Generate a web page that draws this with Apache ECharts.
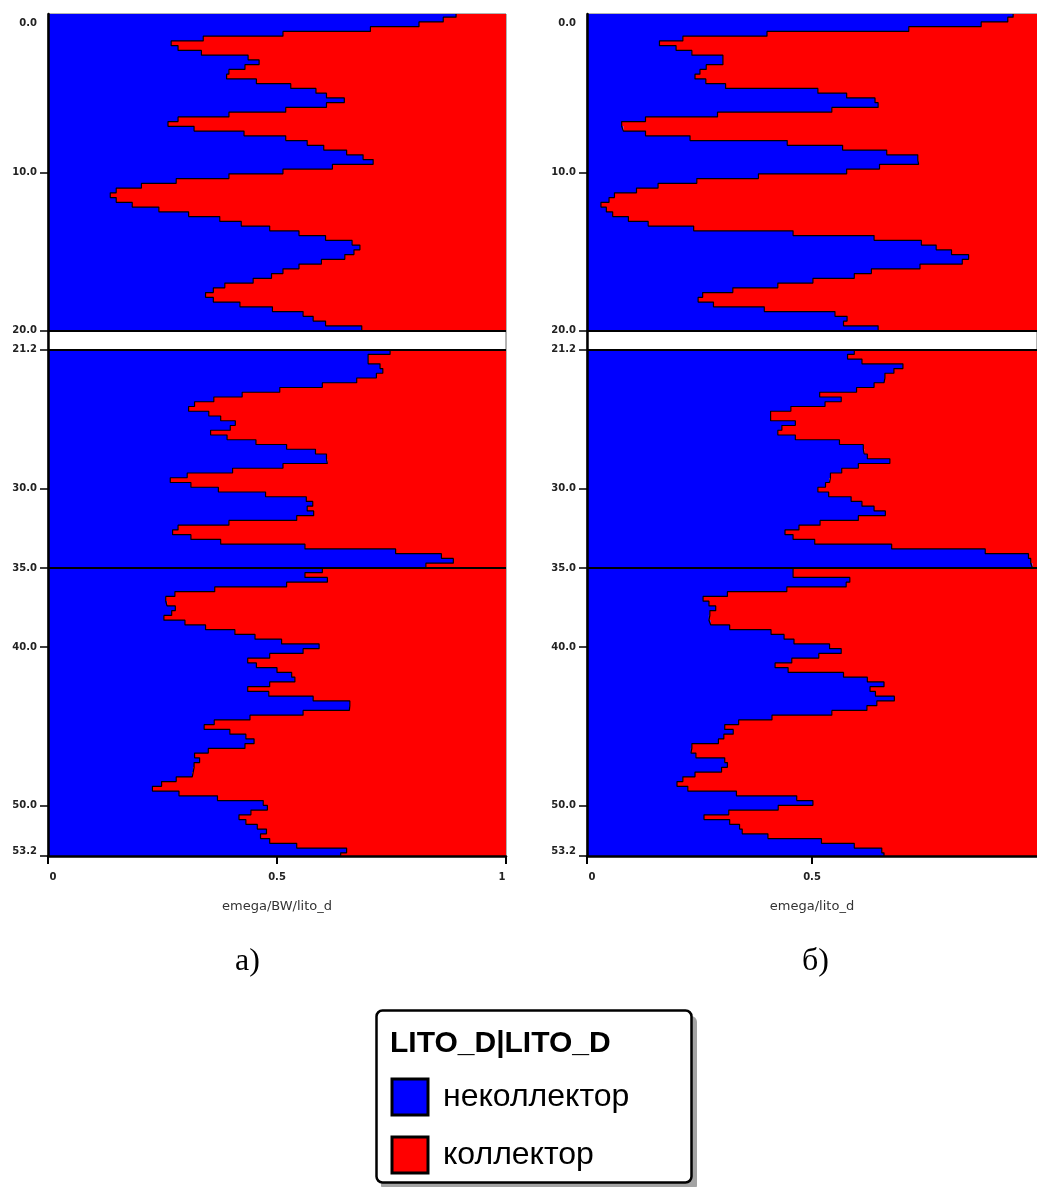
<!DOCTYPE html>
<html>
<head>
<meta charset="utf-8">
<script src="https://cdn.jsdelivr.net/npm/echarts@6/dist/echarts.min.js"></script>
<style>
  html, body { margin: 0; padding: 0; background: #ffffff; }
  #chart { width: 1037px; height: 1187px; }
</style>
</head>
<body>
<div id="chart"></div>
<script>
// Depth intervals (m) of the three logged sections
const sectionTops = [0.0, 21.2, 35.0];
const sectionBottoms = [20.0, 35.0, 53.2];
// sample rows are cut at depths 0.2 + k * 0.3
const rowOrigin = 0.2;
const rowStep = 0.3;

const depthTicks = [0.0, 10.0, 20.0, 21.2, 30.0, 35.0, 40.0, 50.0, 53.2];
const separatorDepths = [20.0, 21.2, 35.0];
const shareTicks = [0, 0.5, 1];

const classNames = ['неколлектор', 'коллектор'];
const classColors = ['#0000ff', '#ff0000'];
const axisNames = ['emega/BW/lito_d', 'emega/lito_d'];
const captions = ['а)', 'б)'];
const legendTitle = 'LITO_D|LITO_D';

// Share of "неколлектор" in each row, panel а
const shareA1 = [
  0.891, 0.863, 0.810, 0.704, 0.513, 0.339, 0.269, 0.284, 0.335, 0.437,
  0.461, 0.430, 0.395, 0.390, 0.455, 0.530, 0.585, 0.608, 0.647, 0.608,
  0.519, 0.395, 0.284, 0.262, 0.319, 0.428, 0.519, 0.566, 0.602, 0.652,
  0.688, 0.710, 0.621, 0.513, 0.395, 0.280, 0.204, 0.149, 0.136, 0.149,
  0.184, 0.242, 0.307, 0.375, 0.422, 0.484, 0.548, 0.606, 0.664, 0.681,
  0.668, 0.648, 0.597, 0.548, 0.513, 0.488, 0.448, 0.386, 0.361, 0.344,
  0.361, 0.419, 0.490, 0.557, 0.579, 0.606, 0.685
];
const shareA2 = [
  0.747, 0.699, 0.699, 0.725, 0.731, 0.717, 0.674, 0.599, 0.506, 0.424,
  0.362, 0.320, 0.307, 0.351, 0.377, 0.409, 0.398, 0.355, 0.391, 0.454,
  0.521, 0.584, 0.608, 0.610, 0.513, 0.403, 0.304, 0.267, 0.312, 0.372,
  0.475, 0.564, 0.578, 0.566, 0.580, 0.543, 0.395, 0.284, 0.272, 0.312,
  0.377, 0.561, 0.759, 0.859, 0.885, 0.825
];
const shareA3 = [
  0.599, 0.561, 0.610, 0.521, 0.364, 0.277, 0.257, 0.260, 0.278, 0.270,
  0.253, 0.299, 0.344, 0.408, 0.452, 0.510, 0.592, 0.557, 0.484, 0.436,
  0.455, 0.500, 0.532, 0.539, 0.484, 0.436, 0.482, 0.579, 0.659, 0.658,
  0.557, 0.441, 0.363, 0.341, 0.397, 0.432, 0.450, 0.430, 0.350, 0.320,
  0.331, 0.319, 0.317, 0.315, 0.280, 0.248, 0.228, 0.286, 0.370, 0.470,
  0.479, 0.443, 0.417, 0.432, 0.457, 0.477, 0.464, 0.484, 0.543, 0.652,
  0.639
];

// Share of "неколлектор" in each row, panel б
const shareB1 = [
  0.947, 0.935, 0.876, 0.715, 0.400, 0.213, 0.161, 0.198, 0.233, 0.302,
  0.302, 0.265, 0.251, 0.240, 0.264, 0.308, 0.513, 0.577, 0.640, 0.647,
  0.544, 0.290, 0.130, 0.077, 0.081, 0.130, 0.229, 0.445, 0.568, 0.666,
  0.735, 0.737, 0.650, 0.577, 0.381, 0.244, 0.158, 0.110, 0.061, 0.049,
  0.031, 0.043, 0.057, 0.092, 0.136, 0.237, 0.458, 0.638, 0.743, 0.776,
  0.810, 0.848, 0.834, 0.740, 0.632, 0.594, 0.502, 0.424, 0.324, 0.257,
  0.247, 0.281, 0.394, 0.551, 0.578, 0.570, 0.647
];
const shareB2 = [
  0.594, 0.579, 0.611, 0.702, 0.682, 0.662, 0.660, 0.638, 0.599, 0.517,
  0.565, 0.529, 0.453, 0.408, 0.408, 0.463, 0.433, 0.424, 0.463, 0.561,
  0.614, 0.616, 0.623, 0.673, 0.603, 0.566, 0.541, 0.539, 0.530, 0.513,
  0.537, 0.587, 0.611, 0.638, 0.663, 0.603, 0.518, 0.471, 0.440, 0.458,
  0.506, 0.677, 0.885, 0.981, 0.986, 0.990
];
const shareB3 = [
  0.458, 0.458, 0.584, 0.576, 0.444, 0.312, 0.258, 0.271, 0.286, 0.273,
  0.271, 0.275, 0.317, 0.409, 0.438, 0.460, 0.539, 0.565, 0.515, 0.455,
  0.418, 0.447, 0.570, 0.623, 0.660, 0.629, 0.641, 0.683, 0.644, 0.622,
  0.544, 0.411, 0.337, 0.306, 0.325, 0.304, 0.292, 0.233, 0.231, 0.242,
  0.306, 0.312, 0.299, 0.240, 0.213, 0.200, 0.224, 0.332, 0.466, 0.502,
  0.425, 0.315, 0.260, 0.317, 0.339, 0.345, 0.402, 0.521, 0.594, 0.655,
  0.660
];

const panelShares = [[shareA1, shareA2, shareA3], [shareB1, shareB2, shareB3]];

// Turn one section's values into [share, topDepth, bottomDepth] rows
function sectionRows(values, top, bottom) {
  const edges = [top];
  for (let k = 0; ; k++) {
    const d = Math.round((rowOrigin + k * rowStep) * 10) / 10;
    if (d >= bottom) break;
    if (d > top) edges.push(d);
  }
  edges.push(bottom);
  return values.map((v, i) => [v, edges[i], edges[i + 1]]);
}

// Step outline along the class boundary
function boundaryPoints(rows) {
  const pts = [];
  rows.forEach(r => { pts.push([r[0], r[1]]); pts.push([r[0], r[2]]); });
  return pts;
}

// One row of a class: blue from 0 to the share, red from the share to 1.
// Row edges are snapped to whole pixels so neighbouring rows tile without seams.
function shareRect(fromZero, color) {
  return function (params, api) {
    const v = api.value(0), t = api.value(1), b = api.value(2);
    const p0 = api.coord([fromZero ? 0 : v, t]);
    const p1 = api.coord([fromZero ? v : 1, b]);
    const y0 = Math.round(p0[1]), y1 = Math.round(p1[1]);
    return {
      type: 'rect',
      shape: { x: p0[0], y: y0, width: p1[0] - p0[0], height: y1 - y0 },
      style: { fill: color, stroke: null }
    };
  };
}

const labelFont = { fontFamily: 'DejaVu Sans', fontWeight: 'bold', fontSize: 10, color: '#222' };

const gridLayout = [
  { left: 48, width: 458 },
  { left: 587, width: 454 }
];

const grids = [], xAxes = [], yAxes = [], series = [];

panelShares.forEach((sections, pi) => {
  grids.push({
    left: gridLayout[pi].left, width: gridLayout[pi].width, top: 14, height: 842,
    show: true, borderColor: '#666', borderWidth: 1, backgroundColor: 'transparent'
  });

  xAxes.push({
    type: 'value', gridIndex: pi, min: shareTicks[0], max: shareTicks[2], interval: shareTicks[1],
    position: 'bottom', z: 10,
    axisLine: { show: true, onZero: false, lineStyle: { color: '#000', width: 2.5 } },
    axisTick: { show: true, length: 8, lineStyle: { color: '#000', width: 2 } },
    axisLabel: Object.assign({
      margin: 16,
      showMaxLabel: pi === 0,
      formatter: v => v === 0 ? '{first|0}' : v === 1 ? '{last|1}' : String(v),
      rich: {
        first: Object.assign({ padding: [0, 0, 0, 10] }, labelFont),
        last: Object.assign({ padding: [0, 8, 0, 0] }, labelFont)
      }
    }, labelFont),
    splitLine: { show: false },
    name: axisNames[pi], nameLocation: 'middle', nameGap: 44,
    nameTextStyle: { fontFamily: 'DejaVu Sans', fontSize: 13, color: '#333' }
  });

  yAxes.push({
    type: 'value', gridIndex: pi, inverse: true,
    min: sectionTops[0], max: sectionBottoms[2], z: 10,
    axisLine: { show: true, onZero: false, lineStyle: { color: '#000', width: 2.5 } },
    axisTick: { show: true, customValues: depthTicks.slice(1), length: 8, lineStyle: { color: '#000', width: 1.5 } },
    axisLabel: Object.assign({
      customValues: depthTicks,
      margin: 11,
      formatter: v => v === depthTicks[0] ? '{first|' + v.toFixed(1) + '}'
        : v === depthTicks[depthTicks.length - 1] ? '{last|' + v.toFixed(1) + '}'
        : v.toFixed(1),
      rich: {
        first: Object.assign({ padding: [18, 0, 0, 0] }, labelFont),
        last: Object.assign({ padding: [0, 0, 10, 0] }, labelFont)
      }
    }, labelFont),
    splitLine: { show: false },
    minorSplitLine: { show: false }
  });

  const allRows = [];
  const outlines = [];
  sections.forEach((vals, si) => {
    const rows = sectionRows(vals, sectionTops[si], sectionBottoms[si]);
    rows.forEach(r => allRows.push(r));
    outlines.push(boundaryPoints(rows));
  });

  classNames.forEach((name, ci) => {
    series.push({
      type: 'custom', name: name, xAxisIndex: pi, yAxisIndex: pi,
      itemStyle: { color: classColors[ci] },
      encode: { x: 0, y: [1, 2] },
      renderItem: shareRect(ci === 0, classColors[ci]),
      data: allRows, clip: true, silent: true, z: 2
    });
  });

  outlines.forEach((pts, si) => {
    const s = {
      type: 'line', xAxisIndex: pi, yAxisIndex: pi, data: pts,
      symbol: 'none', silent: true, clip: true, z: 3,
      lineStyle: { color: '#000', width: 1.2 }
    };
    if (si === 0) {
      s.markLine = {
        silent: true, symbol: ['none', 'none'], label: { show: false },
        lineStyle: { color: '#000', width: 2, type: 'solid' },
        data: separatorDepths.map(d => ({ yAxis: d }))
      };
    }
    series.push(s);
  });
});

const option = {
  backgroundColor: '#ffffff',
  animation: false,
  grid: grids,
  xAxis: xAxes,
  yAxis: yAxes,
  series: series,
  legend: {
    orient: 'vertical', left: 390.5, top: 1077.5, height: 140, padding: 0,
    itemWidth: 36, itemHeight: 36, itemGap: 19,
    selectedMode: false,
    textStyle: {
      fontFamily: 'Liberation Sans', fontSize: 32, lineHeight: 30, color: '#000',
      padding: [6, 0, 0, 10]
    },
    data: classNames.map((n, i) => ({
      name: n, icon: 'rect',
      itemStyle: { color: classColors[i], borderColor: '#000', borderWidth: 3 }
    }))
  },
  graphic: [
    {
      type: 'text', left: 248 - 13, top: 946, z: 5,
      style: { text: captions[0], font: '32px "Liberation Serif"', fill: '#000' }
    },
    {
      type: 'text', left: 816 - 14, top: 946, z: 5,
      style: { text: captions[1], font: '32px "Liberation Serif"', fill: '#000' }
    },
    {
      type: 'rect', z: 0, silent: true,
      shape: { x: 381, y: 1016, width: 316, height: 175, r: 6 },
      style: { fill: '#a3a3a3' }
    },
    {
      type: 'rect', z: 1, silent: true,
      shape: { x: 376.5, y: 1010.5, width: 315, height: 172, r: 6 },
      style: { fill: '#ffffff', stroke: '#000', lineWidth: 2.5 }
    },
    {
      type: 'text', z: 5, silent: true, x: 390, y: 1044,
      style: {
        text: legendTitle, font: 'bold 30px "Liberation Sans"', fill: '#000',
        verticalAlign: 'middle', align: 'left'
      }
    }
  ]
};

const chart = echarts.init(document.getElementById('chart'));
chart.setOption(option);
</script>
</body>
</html>
